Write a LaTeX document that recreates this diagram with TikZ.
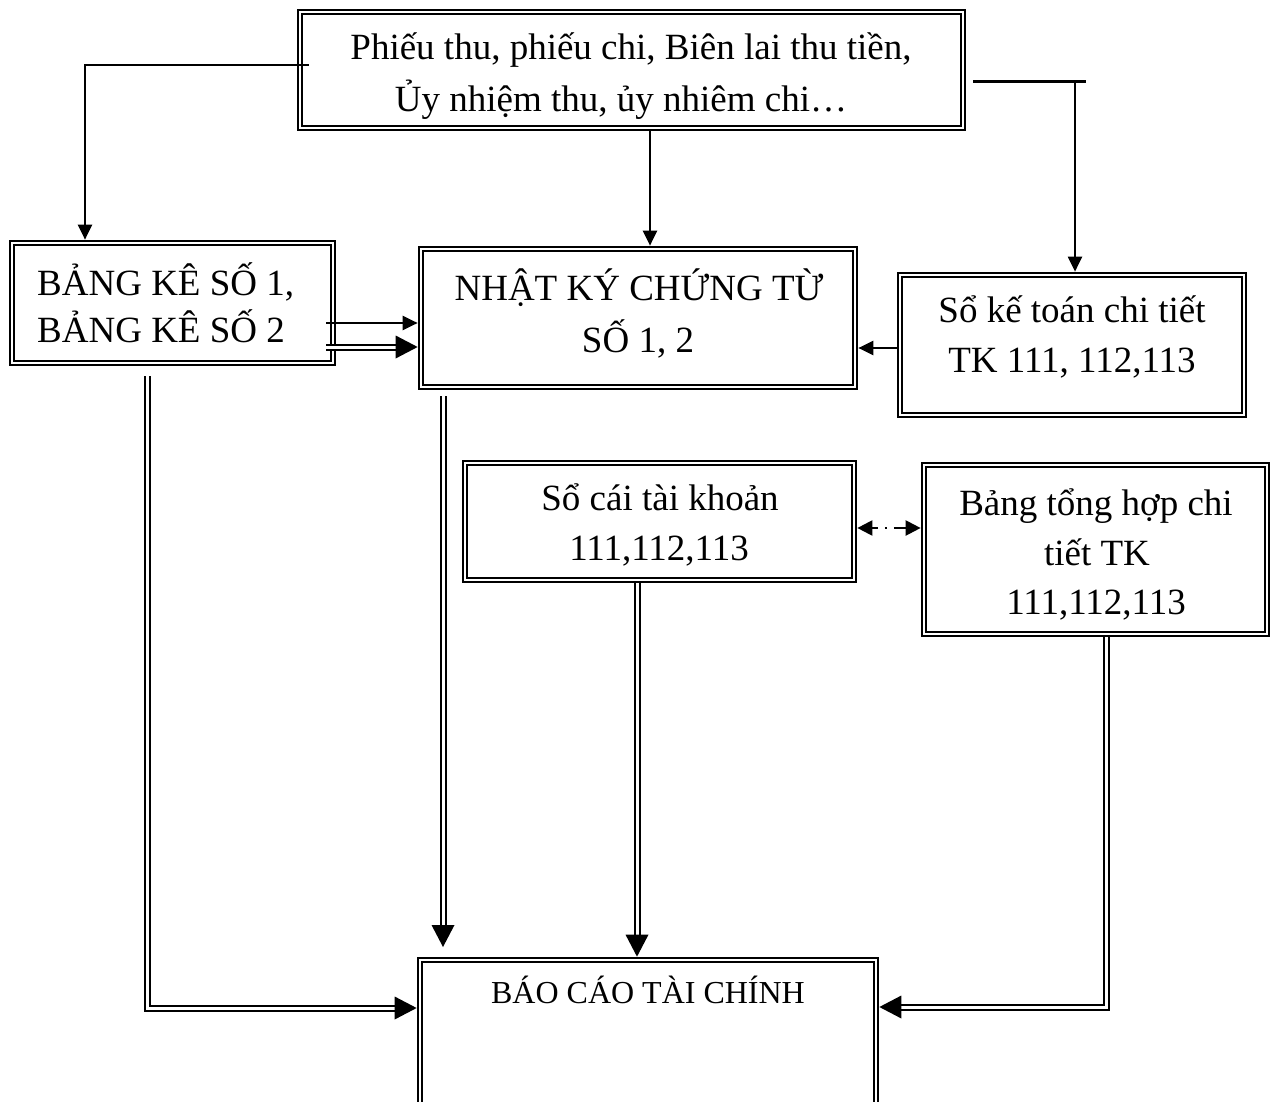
\documentclass[tikz,border=0pt]{standalone}
\usepackage{fontspec}
\setmainfont{Liberation Serif}
\usetikzlibrary{arrows.meta,calc,fit,decorations.markings}
\tikzset{
  obox/.style={draw, line width=2.7pt, inner sep=0pt, rectangle},
  ibox/.style={line width=2.2pt},
  txt/.style={inner sep=0pt, anchor=base, font=\fontsize{37}{50}\selectfont},
  sline/.style={line width=2.2pt},
  sarr/.style={line width=2.2pt, -{Triangle[length=15pt,width=14pt]}},
  dline/.style={double, double distance=3pt, line width=2pt},
  darr/.style={dline, shorten >=12pt, postaction={decorate},
    decoration={markings, mark=at position 1 with {\fill[draw=none] (0,0) -- (-22pt,11.5pt) -- (-22pt,-11.5pt) -- cycle;}}},
}
\newcommand\dblbox[5]{%
  \node[obox, fit={(#2,#3) (#4,#5)}] (#1) {};
  \draw[ibox] ([shift={(5pt,-5pt)}]#1.north west) rectangle ([shift={(-5pt,5pt)}]#1.south east);
}
\begin{document}
\begin{tikzpicture}[x=1pt,y=-1pt]
\useasboundingbox (0,0) rectangle (1279,1102);
\clip (0,0) rectangle (1279,1102);
\fill[white] (0,0) rectangle (1279,1102);
% boxes
\dblbox{top}{298}{10}{965}{130}
\dblbox{bk}{10}{241}{335}{365}
\dblbox{nk}{419}{247}{857}{389}
\dblbox{skt}{898}{273}{1246}{417}
\dblbox{sc}{463}{461}{856}{582}
\dblbox{bth}{922}{463}{1269}{636}
\dblbox{bc}{418}{958}{878}{1140}
% texts
\node[txt] (t1a) at (631,60) {Phiếu thu, phiếu chi, Biên lai thu tiền,};
\node[txt] (t1b) at (621,112) {Ủy nhiệm thu, ủy nhiêm chi…};
\node[txt, anchor=base west] (t2a) at (37,295) {BẢNG KÊ SỐ 1,};
\node[txt, anchor=base west] (t2b) at (37,342) {BẢNG KÊ SỐ 2};
\node[txt] (t3a) at (639,300) {NHẬT KÝ CHỨNG TỪ};
\node[txt] (t3b) at (638,352) {SỐ 1, 2};
\node[txt] (t4a) at (1072,322) {Sổ kế toán chi tiết};
\node[txt] (t4b) at (1072,372) {TK 111, 112,113};
\node[txt] (t5a) at (660,510) {Sổ cái tài khoản};
\node[txt] (t5b) at (659,560) {111,112,113};
\node[txt] (t6a) at (1096,515) {Bảng tổng hợp chi};
\node[txt] (t6b) at (1097,565) {tiết TK};
\node[txt] (t6c) at (1096,614) {111,112,113};
\node[txt, font=\fontsize{32}{40}\selectfont] (t7) at (648,1003) {BÁO CÁO TÀI CHÍNH};
% single connectors
\draw[sarr] ($(top.west |- 0,65)+(12,0)$) -| (bk.north -| 85,0);
\draw[sarr] (top.south -| 650,0) -- (nk.north -| 650,0);
\draw[sline] ($(top.east |- 0,81.5)+(7,0)$) -- ($(top.east |- 0,81.5)+(120,0)$);
\draw[sarr] (1075,81.5) -- (skt.north -| 1075,0);
\draw[sarr] (skt.west |- 0,348) -- (nk.east |- 0,348);
\draw[sarr] ($(bk.east |- 0,323)+(-10,0)$) -- (nk.west |- 0,323);
\draw[dline, shorten >=12pt] ($(bk.east |- 0,347)+(-10,0)$) -- (nk.west |- 0,347);
\fill (nk.west |- 0,347) -- ++(-22pt,11.5pt) -- ++(0,-23pt) -- cycle;
% dash-dot two-way
\draw[line width=2.2pt, {Triangle[length=15pt,width=15pt]}-{Triangle[length=15pt,width=15pt]},
  dash pattern=on 6pt off 7pt on 2pt off 7pt on 20pt off 50pt] (sc.east |- 0,528) -- (bth.west |- 0,528);
% double connectors
\coordinate (nkend) at (443,947);
\draw[darr, shorten <=10pt] (bk.south -| 147,0) |- (bc.west |- 0,1008);
\draw[darr, shorten <=6pt] (nk.south -| 443,0) -- (nkend);
\draw[darr] (sc.south -| 637,0) -- (bc.north -| 637,0);
\draw[darr] (bth.south -| 1106,0) |- (bc.east |- 0,1007);
\end{tikzpicture}
\end{document}
